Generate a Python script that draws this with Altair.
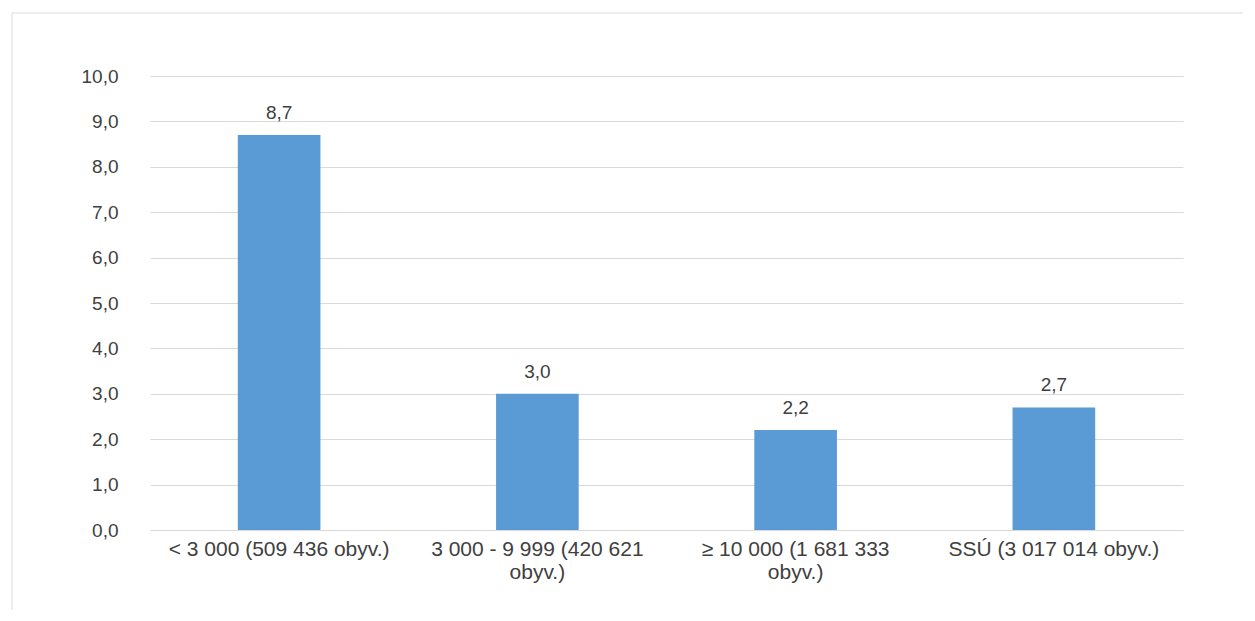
import altair as alt
import pandas as pd

categories = ["< 3 000 (509 436 obyv.)", "3 000 - 9 999 (420 621|obyv.)",
              "≥ 10 000 (1 681 333|obyv.)", "SSÚ (3 017 014 obyv.)"]
values = [8.7, 3.0, 2.2, 2.7]

df = pd.DataFrame({"cat": categories, "val": values})
df["lbl"] = [f"{v:.1f}".replace(".", ",") for v in values]

FONT = "Liberation Sans"
W, H = 1033, 454

base = alt.Chart(df).encode(
    x=alt.X("cat:N", sort=categories, title=None,
            scale=alt.Scale(paddingInner=0.68, paddingOuter=0.34),
            axis=alt.Axis(labelAngle=0, labelExpr="split(datum.label, '|')",
                          labelFont=FONT, labelFontSize=21, labelColor="#404040",
                          domainColor="#d9d9d9", ticks=False, labelPadding=8,
                          labelLineHeight=23, labelLimit=400)),
    y=alt.Y("val:Q", title=None,
            scale=alt.Scale(domain=[0, 10]),
            axis=alt.Axis(values=list(range(11)), labelExpr="replace(format(datum.value, '.1f'), '.', ',')",
                          labelFont=FONT, labelFontSize=19, labelColor="#404040",
                          gridColor="#d9d9d9", domain=False, ticks=False, labelPadding=32)),
)

bars = base.mark_bar(color="#5b9bd5")
text = base.mark_text(dy=-22, font=FONT, fontSize=19, color="#404040").encode(text="lbl:N")

border = alt.Chart(pd.DataFrame({"a": [0]})).mark_rule(color="#d9d9d9").encode(
    x=alt.value(-138), x2=alt.value(1100), y=alt.value(-63))
border2 = alt.Chart(pd.DataFrame({"a": [0]})).mark_rule(color="#d9d9d9").encode(
    x=alt.value(-138), y=alt.value(-63), y2=alt.value(560))

chart = alt.layer(bars, text, border, border2).properties(
    width=W, height=H,
    autosize=alt.AutoSizeParams(type="none"),
    padding={"left": 142, "top": 68, "right": 60, "bottom": 80},
).configure_view(stroke=None)

chart.save("out.html", embed_options={"renderer": "svg", "actions": False})
